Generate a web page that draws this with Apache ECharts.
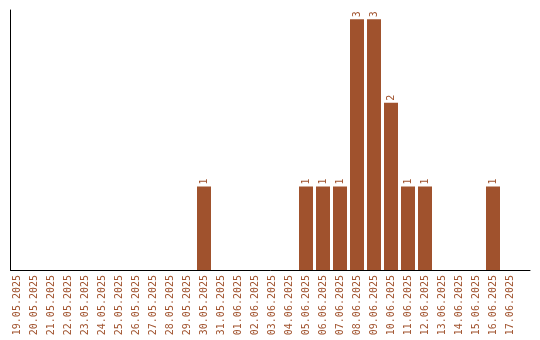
<!DOCTYPE html>
<html>
<head>
<meta charset="utf-8">
<script src="https://cdn.jsdelivr.net/npm/echarts@6/dist/echarts.min.js"></script>
<style>html,body{margin:0;padding:0;background:#fff}#c{width:540px;height:340px}</style>
</head>
<body>
<div id="c"></div>
<script>
var categories = ['19.05.2025','20.05.2025','21.05.2025','22.05.2025','23.05.2025','24.05.2025','25.05.2025','26.05.2025','27.05.2025','28.05.2025','29.05.2025','30.05.2025','31.05.2025','01.06.2025','02.06.2025','03.06.2025','04.06.2025','05.06.2025','06.06.2025','07.06.2025','08.06.2025','09.06.2025','10.06.2025','11.06.2025','12.06.2025','13.06.2025','14.06.2025','15.06.2025','16.06.2025','17.06.2025'];
var values = [0,0,0,0,0,0,0,0,0,0,0,1,0,0,0,0,0,1,1,1,3,3,2,1,1,0,0,0,1,0];

var brown = '#A0522D';
var font = '"DejaVu Sans Mono", monospace';
var chart = echarts.init(document.getElementById('c'), null, {renderer: 'canvas'});
chart.setOption({
  animation: false,
  backgroundColor: '#fff',
  grid: [
    {left: 8.5, right: 21.5, top: 10, bottom: 70},
    {left: 10.5, right: 10, top: 10, bottom: 70}
  ],
  xAxis: [
    {type: 'category', gridIndex: 0, data: categories,
     axisLine: {show: false}, axisTick: {show: false},
     axisLabel: {interval: 0, rotate: 90, margin: 5, color: brown, fontFamily: font, fontSize: 10}},
    {type: 'value', gridIndex: 1, min: 0, max: 1,
     axisLine: {show: true, onZero: false, lineStyle: {color: '#000', width: 1}},
     axisTick: {show: false}, axisLabel: {show: false}, splitLine: {show: false}}
  ],
  yAxis: [
    {type: 'value', gridIndex: 0, min: 0, max: 3.11, show: false, splitLine: {show: false}},
    {type: 'value', gridIndex: 1, min: 0, max: 1,
     axisLine: {show: true, onZero: false, lineStyle: {color: '#000', width: 1}},
     axisTick: {show: false}, axisLabel: {show: false}, splitLine: {show: false}}
  ],
  series: [{
    type: 'bar', xAxisIndex: 0, yAxisIndex: 0,
    data: values.map(function(v){ return v === 0 ? null : v; }),
    barWidth: 14,
    itemStyle: {color: brown},
    label: {show: true, position: 'top', rotate: 90, align: 'left', verticalAlign: 'middle',
            distance: 2, color: brown, fontFamily: font, fontSize: 10}
  }]
});
</script>
</body>
</html>
